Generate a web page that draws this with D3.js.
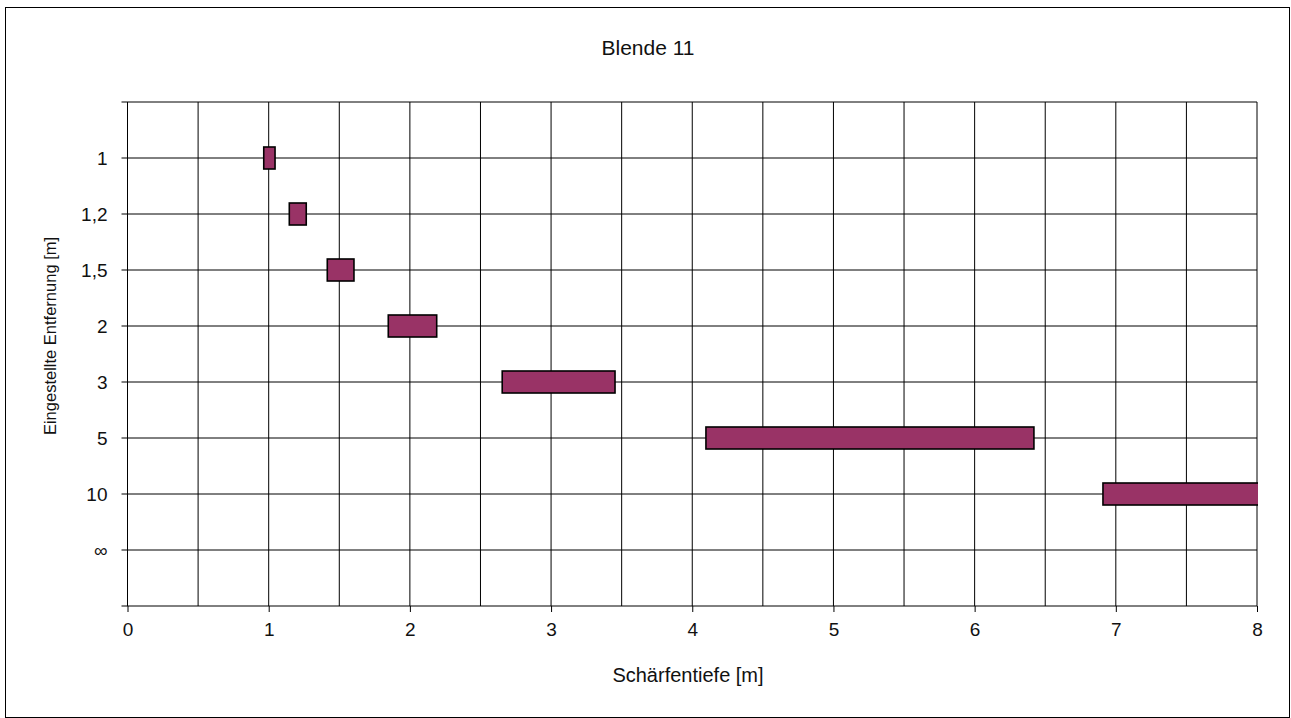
<!DOCTYPE html>
<html><head><meta charset="utf-8">
<script src="https://cdn.jsdelivr.net/npm/d3@7"></script>
<style>
html,body{margin:0;padding:0;background:#fff;}
text{font-family:"Liberation Sans",Arial,sans-serif;fill:#111;}
</style></head>
<body>
<svg id="chart" width="1291" height="718"></svg>
<script>
const title = "Blende 11";
const xTitle = "Schärfentiefe [m]";
const yTitle = "Eingestellte Entfernung [m]";
const categories = ["1", "1,2", "1,5", "2", "3", "5", "10", "∞"];
const nearLimit = [0.965, 1.146, 1.415, 1.847, 2.654, 4.097, 6.909, null];
const farLimit  = [1.045, 1.266, 1.604, 2.190, 3.453, 6.420, 12.0, null];
const xTicks = [0, 1, 2, 3, 4, 5, 6, 7, 8];
const xGrid = [0, 0.5, 1, 1.5, 2, 2.5, 3, 3.5, 4, 4.5, 5, 5.5, 6, 6.5, 7, 7.5, 8];

const svg = d3.select("#chart");
const m = {left: 127.5, right: 1257, top: 102, bottom: 606};

svg.append("rect").attr("x", 5.5).attr("y", 7.5).attr("width", 1284).attr("height", 710)
  .attr("fill", "#fff").attr("stroke", "#000").attr("stroke-width", 1);

const x = d3.scaleLinear().domain([0, 8]).range([m.left, m.right]);
const y = d3.scaleLinear().domain([0, categories.length + 1]).range([m.top, m.bottom]);

const g = svg.append("g");
g.selectAll("line.vg").data(xGrid).join("line").attr("class", "vg")
  .attr("x1", d => x(d)).attr("x2", d => x(d)).attr("y1", m.top).attr("y2", m.bottom)
  .attr("stroke", "#000").attr("stroke-width", 1);
const hLines = d3.range(0, categories.length + 2);
g.selectAll("line.hg").data(hLines).join("line").attr("class", "hg")
  .attr("x1", m.left - 6).attr("x2", m.right).attr("y1", d => y(d)).attr("y2", d => y(d))
  .attr("stroke", "#000").attr("stroke-width", 1);

const fontFam = "Liberation Sans, Arial, sans-serif";
const xAxis = d3.axisBottom(x).tickValues(xTicks).tickSize(6).tickPadding(11)
  .tickFormat(d3.format("d"));
const xa = svg.append("g").attr("transform", `translate(0,${m.bottom})`).call(xAxis);
xa.select(".domain").remove();
xa.selectAll("text").style("font-size", "19px").style("font-family", fontFam).attr("fill", "#111");
xa.selectAll("line").attr("stroke", "#000");

const yAxis = d3.axisLeft(y).tickValues(d3.range(1, categories.length + 1)).tickSize(0).tickPadding(20)
  .tickFormat(d => categories[d - 1]);
const ya = svg.append("g").attr("transform", `translate(${m.left},0)`).call(yAxis);
ya.select(".domain").remove();
ya.selectAll("text").style("font-size", "19px").style("font-family", fontFam).attr("fill", "#111");

svg.append("clipPath").attr("id", "plotclip").append("rect")
  .attr("x", m.left).attr("y", m.top).attr("width", m.right - m.left + 1).attr("height", m.bottom - m.top);
const barH = 22;
const bars = categories.map((c, i) => ({c, i, a: nearLimit[i], b: farLimit[i]})).filter(d => d.a != null);
svg.append("g").attr("clip-path", "url(#plotclip)")
  .selectAll("rect").data(bars).join("rect")
  .attr("x", d => x(d.a)).attr("width", d => x(d.b) - x(d.a))
  .attr("y", d => y(d.i + 1) - barH / 2).attr("height", barH)
  .attr("fill", "#993366").attr("stroke", "#000").attr("stroke-width", 1.6);

svg.append("text").attr("x", 648).attr("y", 55).attr("text-anchor", "middle")
  .style("font-size", "21px").text(title);
svg.append("text").attr("x", 688).attr("y", 682).attr("text-anchor", "middle")
  .style("font-size", "20px").text(xTitle);
svg.append("text").attr("transform", `translate(56,336) rotate(-90)`).attr("text-anchor", "middle")
  .style("font-size", "16.5px").text(yTitle);
</script>
</body></html>
